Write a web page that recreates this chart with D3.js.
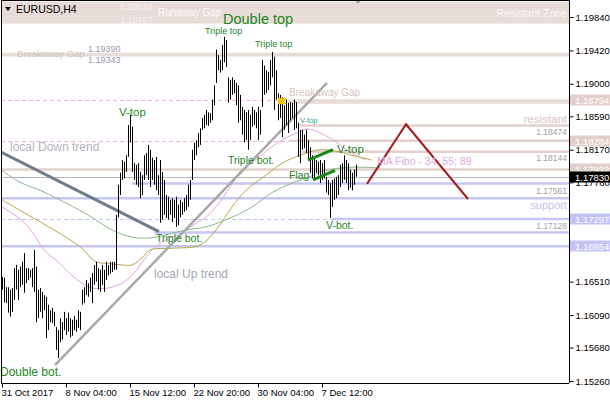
<!DOCTYPE html>
<html>
<head>
<meta charset="utf-8">
<script src="https://cdn.jsdelivr.net/npm/d3@7"></script>
<style>
  body { margin: 0; background: #fff; }
  svg { display: block; }
  text { font-family: "Liberation Sans", Arial, sans-serif; }
</style>
</head>
<body>
<svg id="chart" width="610" height="400"></svg>
<script>
// EURUSD H4 bars: high / low per bar
const highs = [
  1.1657,1.1656,1.1644,1.1644,1.1641,1.1643,1.1668,1.1672,1.1666,1.1670,
  1.1676,1.1687,1.1668,1.1668,1.1666,1.1668,1.1691,1.1670,1.1641,1.1643,
  1.1638,1.1634,1.1632,1.1622,1.1615,1.1618,1.1613,1.1594,1.1590,1.1605,
  1.1600,1.1613,1.1605,1.1612,1.1605,1.1603,1.1608,1.1603,1.1615,1.1613,
  1.1641,1.1644,1.1653,1.1649,1.1656,1.1662,1.1672,1.1676,1.1668,1.1666,
  1.1672,1.1666,1.1676,1.1672,1.1676,1.1676,1.1676,1.1735,1.1773,1.1788,
  1.1804,1.1802,1.1810,1.1848,1.1861,1.1846,1.1800,1.1798,1.1800,1.1789,
  1.1785,1.1810,1.1813,1.1823,1.1817,1.1807,1.1804,1.1808,1.1785,1.1804,
  1.1789,1.1779,1.1760,1.1758,1.1754,1.1756,1.1754,1.1758,1.1748,1.1754,
  1.1751,1.1756,1.1760,1.1773,1.1779,1.1817,1.1826,1.1829,1.1838,1.1844,
  1.1857,1.1861,1.1867,1.1864,1.1863,1.1880,1.1898,1.1943,1.1936,1.1930,
  1.1949,1.1959,1.1955,1.1908,1.1905,1.1908,1.1905,1.1901,1.1898,1.1886,
  1.1871,1.1867,1.1864,1.1867,1.1861,1.1871,1.1867,1.1864,1.1871,1.1867,
  1.1930,1.1923,1.1917,1.1915,1.1930,1.1940,1.1934,1.1917,1.1888,1.1886,
  1.1883,1.1873,1.1880,1.1876,1.1877,1.1876,1.1880,1.1877,1.1851,1.1842,
  1.1842,1.1836,1.1842,1.1829,1.1820,1.1810,1.1808,1.1804,1.1802,1.1804,
  1.1800,1.1804,1.1783,1.1779,1.1775,1.1779,1.1781,1.1783,1.1785,1.1798,
  1.1800,1.1810,1.1804,1.1800,1.1792,1.1788,1.1792,1.1798
];
const lows = [
  1.1641,1.1625,1.1624,1.1612,1.1607,1.1613,1.1628,1.1641,1.1628,1.1644,
  1.1647,1.1637,1.1649,1.1653,1.1656,1.1644,1.1638,1.1600,1.1605,1.1613,
  1.1605,1.1615,1.1580,1.1590,1.1600,1.1599,1.1595,1.1565,1.1555,1.1575,
  1.1578,1.1590,1.1584,1.1588,1.1581,1.1583,1.1590,1.1588,1.1593,1.1590,
  1.1622,1.1624,1.1634,1.1632,1.1638,1.1624,1.1647,1.1651,1.1641,1.1638,
  1.1647,1.1638,1.1653,1.1659,1.1661,1.1663,1.1666,1.1666,1.1732,1.1760,
  1.1779,1.1781,1.1789,1.1808,1.1826,1.1789,1.1779,1.1773,1.1770,1.1756,
  1.1760,1.1779,1.1785,1.1779,1.1770,1.1779,1.1773,1.1766,1.1760,1.1725,
  1.1729,1.1735,1.1731,1.1729,1.1735,1.1726,1.1731,1.1720,1.1722,1.1732,
  1.1735,1.1739,1.1741,1.1745,1.1754,1.1779,1.1804,1.1810,1.1820,1.1823,
  1.1842,1.1844,1.1848,1.1847,1.1851,1.1854,1.1873,1.1901,1.1917,1.1914,
  1.1917,1.1927,1.1921,1.1876,1.1880,1.1886,1.1888,1.1873,1.1851,1.1854,
  1.1836,1.1826,1.1829,1.1817,1.1829,1.1846,1.1848,1.1844,1.1829,1.1836,
  1.1871,1.1886,1.1888,1.1892,1.1898,1.1908,1.1867,1.1880,1.1854,1.1857,
  1.1833,1.1842,1.1848,1.1838,1.1854,1.1857,1.1842,1.1844,1.1808,1.1800,
  1.1817,1.1819,1.1813,1.1804,1.1788,1.1781,1.1779,1.1788,1.1785,1.1775,
  1.1779,1.1781,1.1763,1.1760,1.1731,1.1745,1.1754,1.1756,1.1760,1.1770,
  1.1775,1.1779,1.1775,1.1766,1.1769,1.1766,1.1773,1.1783
];
const lastPrice = 1.17830;

// Moving averages (Fibo periods), sampled as [bar, price]
const maPink = [
  [0,1.1745],[9,1.1730],[15,1.1714],[21,1.1691],[28,1.1676],[35,1.1659],[40,1.1649],
  [45,1.1643],[53,1.1643],[60,1.1649],[65,1.1659],[70,1.1675],[75,1.1691],[82,1.1704],
  [90,1.1712],[95,1.1721],[98,1.1726],[102,1.1732],[108,1.1748],[113,1.1766],[118,1.1785],
  [123,1.1798],[129,1.1808],[133,1.1817],[140,1.1829],[148,1.1839],[153,1.1843],
  [160,1.1837],[167,1.1827],[172,1.1817],[178,1.1809],[182,1.1804]
];
const maOlive = [
  [0,1.1754],[15,1.1732],[26,1.1716],[39,1.1695],[47,1.1676],[53,1.1674],[60,1.1672],
  [65,1.1672],[70,1.1681],[74,1.1691],[85,1.1693],[99,1.1697],[107,1.1716],[115,1.1745],
  [122,1.1766],[132,1.1785],[140,1.1800],[149,1.1810],[159,1.1817],[169,1.1814],
  [175,1.1810],[185,1.1804]
];
const maGreen = [
  [0,1.1791],[9,1.1776],[19,1.1766],[32,1.1750],[45,1.1732],[55,1.1716],[65,1.1707],
  [74,1.1706],[82,1.1710],[92,1.1716],[102,1.1720],[115,1.1732],[125,1.1745],
  [135,1.1763],[145,1.1775],[154,1.1783],[159,1.1789],[169,1.1794],[179,1.1795],[189,1.1794]
];

// Price levels
const gapRunaway = [1.20033, 1.19757];
const gapBreakaway = [1.19390, 1.19343];
const gapBreakaway2 = [1.18794, 1.18760];
const resistLevels = [
  { price: 1.18474, from: 148, tag: true },
  { price: 1.18284, from: 144, tag: false },
  { price: 1.18144, from: 150, tag: true },
  { price: 1.17922, from: 0,   tag: false }
];
const supportLevels = [
  { price: 1.17745, from: 65,  tag: false },
  { price: 1.17561, from: 0,   tag: true },
  { price: 1.17297, from: 165, tag: false },
  { price: 1.17128, from: 76,  tag: true },
  { price: 1.16954, from: 0,   tag: false }
];
const dashedLevels = [
  { price: 1.18794, kind: "res" },
  { price: 1.18284, kind: "res" },
  { price: 1.17297, kind: "sup" }
];
const axisTagsRes = [1.18794, 1.18284, 1.17922];
const axisTagsSup = [1.17297, 1.16954];

// Trend lines, flag and projected zigzag: [bar, price]
const downTrend = [[-0.5,1.1814],[78.5,1.1714]];
const upTrend = [[26.5,1.1546],[162.5,1.1901]];
const flagUpper = [[153,1.1804],[165.5,1.1817]];
const flagLower = [[155.5,1.1779],[166.5,1.1791]];
const zigzag = [[182.5,1.1774],[202,1.1849],[233,1.1755]];

// Axis ticks
const yTicks = [1.19840,1.19420,1.19000,1.18590,1.18170,1.17760,1.17340,1.16930,1.16510,1.16090,1.15680,1.15260];
const xTickBars = [0,32,64,96,128,160];
const xTickLabels = ["31 Oct 2017","8 Nov 04:00","15 Nov 12:00","22 Nov 20:00","30 Nov 04:00","7 Dec 12:00"];

// Pattern annotations: [text, bar, price, font size]
const patternLabels = [
  ["Triple top", 101.5, 1.1963, 9],
  ["Triple top", 126.5, 1.1946, 9],
  ["V-top", 58.5, 1.1859, 11.5],
  ["Triple bot.", 113, 1.1799, 10.5],
  ["Triple bot.", 77, 1.1701, 10.5],
  ["V-top", 167.5, 1.1813, 11.5],
  ["Flag", 143.5, 1.1780, 10.5],
  ["V-bot.", 162, 1.1717, 10.5],
  ["Double bot.", -1, 1.1532, 12]
];

const W = 610, H = 400;
const plotL = 1, plotR = 569, plotB = 383;
const svg = d3.select("#chart");

const x = d3.scaleLinear().domain([0, 283]).range([2, 568]);
const y = d3.scaleLinear().domain([1.15260, 1.19840]).range([381, 17]);

const colRes = "#e3d0cc", colSup = "#c6c6f3", colBand = "#e8dcd8";
const colGreenText = "#1f861f";

const plot = svg.append("g");
plot.append("defs").append("clipPath").attr("id", "clip")
  .append("rect").attr("x", plotL).attr("y", 0).attr("width", plotR - plotL).attr("height", plotB);
const g = plot.append("g").attr("clip-path", "url(#clip)");

// gap bands
function band(p, x0, color) {
  g.append("rect").attr("x", x0).attr("width", plotR - x0)
    .attr("y", y(p[0])).attr("height", y(p[1]) - y(p[0])).attr("fill", color);
}
band(gapRunaway, plotL, colBand);
band(gapBreakaway, plotL, colBand);

// dashed horizontal levels
dashedLevels.forEach(d => {
  g.append("line").attr("x1", plotL).attr("x2", plotR)
    .attr("y1", Math.round(y(d.price)) + 0.5).attr("y2", Math.round(y(d.price)) + 0.5)
    .attr("stroke", d.kind === "res" ? "#e8bcb4" : "#c4c4f0")
    .attr("stroke-dasharray", "4,3").attr("stroke-width", 1);
});
band([gapBreakaway2[0] + 0.00012, gapBreakaway2[1] - 0.00012], x(143), colBand);

// solid resistance / support levels
resistLevels.forEach(d => {
  g.append("line").attr("x1", x(d.from)).attr("x2", plotR)
    .attr("y1", y(d.price)).attr("y2", y(d.price))
    .attr("stroke", colRes).attr("stroke-width", 2.5);
});
supportLevels.forEach(d => {
  g.append("line").attr("x1", x(d.from)).attr("x2", plotR)
    .attr("y1", y(d.price)).attr("y2", y(d.price))
    .attr("stroke", colSup).attr("stroke-width", 2.5);
});

// current price line
g.append("line").attr("x1", plotL).attr("x2", plotR)
  .attr("y1", Math.round(y(lastPrice)) + 0.5).attr("y2", Math.round(y(lastPrice)) + 0.5)
  .attr("stroke", "#b8b8b8").attr("stroke-width", 1);

// moving averages
const line = d3.line().x(d => x(d[0])).y(d => y(d[1])).curve(d3.curveCatmullRom);
[[maPink, "#e2a2e2"], [maOlive, "#b5a84a"], [maGreen, "#88bb88"]].forEach(([data, c]) => {
  g.append("path").datum(data).attr("d", line).attr("fill", "none")
    .attr("stroke", c).attr("stroke-width", 1);
});

// trend lines
const seg = d3.line().x(d => x(d[0])).y(d => y(d[1]));
g.append("path").datum(downTrend).attr("d", seg).attr("stroke", "#6f7d8f").attr("stroke-width", 3).attr("fill", "none");
g.append("path").datum(upTrend).attr("d", seg).attr("stroke", "#a9a9a9").attr("stroke-width", 2.5).attr("fill", "none");

// price bars
g.append("g").selectAll("line").data(highs).join("line")
  .attr("x1", (d, i) => Math.round(x(i)) + 0.5).attr("x2", (d, i) => Math.round(x(i)) + 0.5)
  .attr("y1", d => y(d)).attr("y2", (d, i) => y(lows[i]))
  .attr("stroke", "#000").attr("stroke-width", 1);

// flag channel
[flagUpper, flagLower].forEach(f => {
  g.append("path").datum(f).attr("d", seg).attr("stroke", "#138a13").attr("stroke-width", 3).attr("fill", "none");
});

// projected zigzag
g.append("path").datum(zigzag).attr("d", seg).attr("stroke", "#a31c1c").attr("stroke-width", 2).attr("fill", "none");

// breakaway marker
g.append("path")
  .attr("d", `M${x(138)},${y(1.18820)} h9 l-3,3 l3,3 h-9 z`)
  .attr("fill", "#f2c400");

// ---- texts ----
function txt(s, px, py, size, color, anchor) {
  return svg.append("text").attr("x", px).attr("y", py).text(s)
    .attr("font-size", size).attr("fill", color).attr("text-anchor", anchor || "start");
}

// gap texts
txt("EURUSD,H4", 16, 13, 10.5, "#000");
svg.append("path").attr("d", "M5,7 h6 l-3,4 z").attr("fill", "#000");
txt(d3.format(".5f")(gapRunaway[0]), 120, y(gapRunaway[0]) + 8, 9, "#f6f2f0");
txt(d3.format(".5f")(gapRunaway[1]), 120, y(gapRunaway[1]) - 1, 9, "#f6f2f0");
txt("Runaway Gap", 158, 16, 10, "#fbf8f7");
txt("Resistant Zone", 567, 17, 10.5, "#fbf8f7", "end");
txt("Breakaway Gap", 17, y(gapBreakaway[1]) + 1, 9.5, "#d4c2bf");
txt(d3.format(".5f")(gapBreakaway[0]), 88, y(gapBreakaway[0]) - 1, 9, "#9a9ab0");
txt(d3.format(".5f")(gapBreakaway[1]), 88, y(gapBreakaway[1]) + 7, 9, "#9a9ab0");
txt("Breakaway Gap", 289, y(gapBreakaway2[0]) - 4, 10, "#d8c4c0");

// level tags inside plot
resistLevels.filter(d => d.tag).forEach(d => txt(d3.format(".5f")(d.price), 567, y(d.price) + 9, 8.5, "#a0a0a8", "end"));
supportLevels.filter(d => d.tag).forEach(d => txt(d3.format(".5f")(d.price), 567, y(d.price) - 4, 8.5, "#a0a0a8", "end"));
txt("resistant", 567, y(resistLevels[0].price) - 3, 11.5, "#d8c2c2", "end");
txt("support", 567, y(supportLevels[1].price) + 11, 11, "#c4c4ef", "end");

// pattern labels
txt("Double top", x(110.5), y(1.1975), 14.5, colGreenText);
patternLabels.forEach(([s, b, p, fs]) => txt(s, x(b), y(p), fs, colGreenText));
txt("V-top", x(149), y(1.1851), 7.5, "#17a3a0");
txt("local Down trend", x(4), y(1.1816), 12, "#b4b4bc");
txt("local Up trend", x(76), y(1.1656), 12, "#a4a8b4");
txt("MA Fibo - 34, 55; 89", x(187.5), y(1.1798), 10.5, "#e2a8e2");

// chart-shift marker
svg.append("path").attr("d", `M${x(178)-3},0 h6 l-3,4 z`).attr("fill", "#a0a0a0");

// frame
svg.append("line").attr("x1", 1.5).attr("x2", 1.5).attr("y1", 0).attr("y2", plotB).attr("stroke", "#000");
svg.append("line").attr("x1", 1).attr("x2", plotR).attr("y1", 0.5).attr("y2", 0.5).attr("stroke", "#000");

// axes
const allTags = axisTagsRes.concat(axisTagsSup, [lastPrice]);
const yAxis = d3.axisRight(y).tickValues(yTicks).tickSize(4).tickPadding(2).tickFormat(d3.format(".5f"));
const ya = svg.append("g").attr("transform", `translate(${plotR + 0.5},0)`).call(yAxis);
ya.select(".domain").attr("d", `M0,0V${plotB}`).attr("stroke", "#000");
ya.selectAll("text").attr("font-size", 9.5).attr("fill", "#000").attr("font-family", "Liberation Sans, Arial, sans-serif");
// tick labels that sit under a price tag are hidden by it
ya.selectAll(".tick text").filter(d => allTags.some(t => Math.abs(y(t) - y(d)) < 5)).remove();

const xAxis = d3.axisBottom(x).tickValues(xTickBars).tickSize(4).tickPadding(2)
  .tickFormat((d, i) => xTickLabels[i]);
const xa = svg.append("g").attr("transform", `translate(0,${plotB + 0.5})`).call(xAxis);
xa.select(".domain").attr("d", `M1,0H${plotR}`).attr("stroke", "#000");
xa.selectAll("text").attr("font-size", 9.5).attr("fill", "#000").attr("text-anchor", "start").attr("dx", "-1")
  .attr("font-family", "Liberation Sans, Arial, sans-serif");

// price tags on the axis
function axisTag(p, bg, fg) {
  const yy = Math.round(y(p));
  svg.append("rect").attr("x", plotR + 1).attr("y", yy - 5.5).attr("width", W - plotR - 1).attr("height", 11).attr("fill", bg);
  svg.append("text").attr("x", plotR + 6).attr("y", yy + 3.5).text(d3.format(".5f")(p))
    .attr("font-size", 9.5).attr("fill", fg);
}
axisTagsRes.forEach(p => axisTag(p, "#e2cfcb", "#fff"));
axisTagsSup.forEach(p => axisTag(p, "#c3c3f5", "#fff"));
axisTag(lastPrice, "#000", "#fff");
</script>
</body>
</html>
